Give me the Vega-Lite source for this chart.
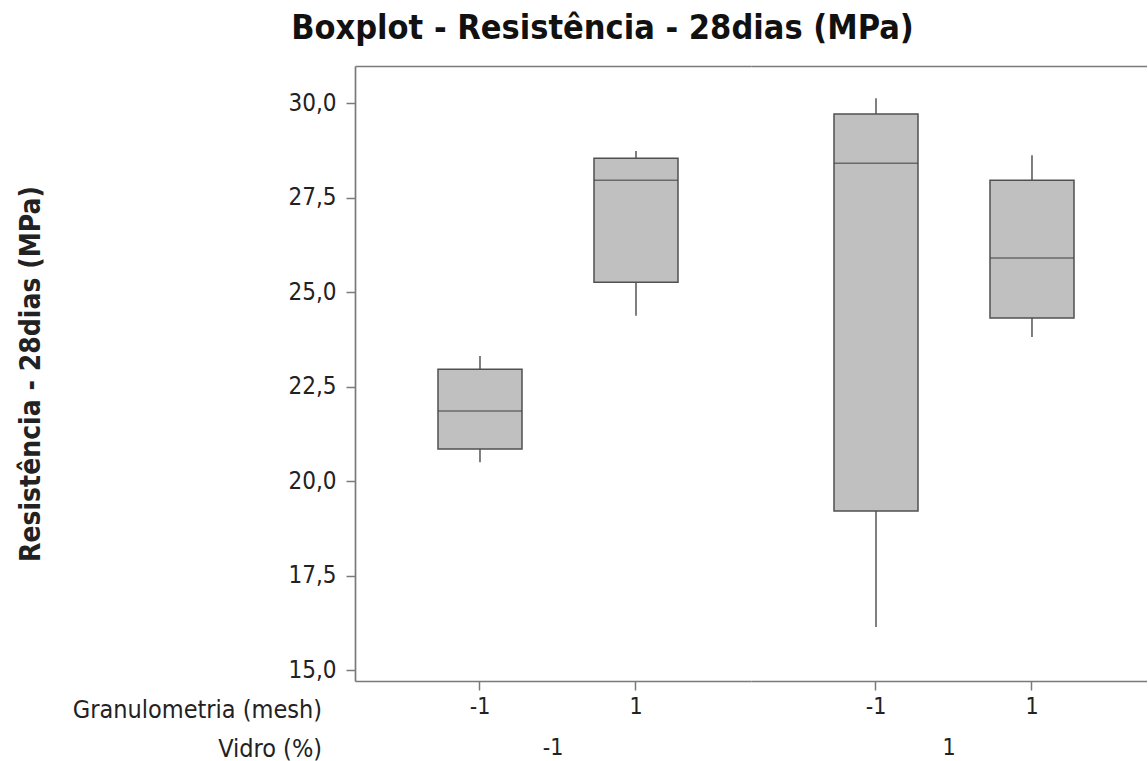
{
  "$schema": "https://vega.github.io/schema/vega-lite/v6.json",
  "autosize": {"type": "pad"},
  "padding": {"left": 17, "top": 12, "right": 0, "bottom": 0},
  "title": {
    "text": "Boxplot - Resistência - 28dias (MPa)",
    "fontSize": 34,
    "fontWeight": "bold",
    "color": "#111111",
    "anchor": "middle",
    "dx": 20,
    "offset": 20
  },
  "data": {
    "values": [
      {"Vidro": "-1", "Granulometria": "-1", "min": 20.50, "q1": 20.85, "median": 21.85, "q3": 22.96, "max": 23.31},
      {"Vidro": "-1", "Granulometria": "1", "min": 24.37, "q1": 25.26, "median": 27.96, "q3": 28.54, "max": 28.73},
      {"Vidro": "1", "Granulometria": "-1", "min": 16.14, "q1": 19.21, "median": 28.41, "q3": 29.71, "max": 30.13},
      {"Vidro": "1", "Granulometria": "1", "min": 23.81, "q1": 24.31, "median": 25.90, "q3": 27.96, "max": 28.62}
    ]
  },
  "spacing": 0,
  "facet": {
    "column": {
      "field": "Vidro",
      "type": "nominal",
      "sort": ["-1", "1"],
      "title": ["Granulometria (mesh)\u2800\u2800", "Vidro (%)\u2800\u2800"],
      "header": {
        "labelOrient": "bottom",
        "labelFontSize": 23,
        "labelColor": "#222222",
        "labelPadding": 19,
        "titleOrient": "bottom",
        "titleAnchor": "start",
        "titleAlign": "right",
        "titleFontSize": 25,
        "titleFontWeight": "normal",
        "titleColor": "#222222",
        "titleLineHeight": 39,
        "titlePadding": -72
      }
    }
  },
  "spec": {
    "width": 396,
    "height": 615,
    "encoding": {
      "x": {
        "field": "Granulometria",
        "type": "nominal",
        "sort": ["-1", "1"],
        "scale": {"paddingInner": 0.4615, "paddingOuter": 0.5, "align": 0.532}
      },
      "y": {
        "type": "quantitative",
        "scale": {"domain": [14.71, 30.98], "nice": false, "zero": false}
      }
    },
    "layer": [
      {
        "mark": {"type": "rule", "color": "#555555", "strokeWidth": 1.5},
        "encoding": {
          "x": {
            "field": "Granulometria",
            "type": "nominal",
            "sort": ["-1", "1"],
            "axis": {"orient": "bottom", "title": null, "labelAngle": 0, "labelPadding": 5, "labelFontSize": 23}
          },
          "y": {
            "field": "min",
            "type": "quantitative",
            "axis": {
              "title": "Resistência - 28dias (MPa)",
              "titleFontSize": 28,
              "titleFontWeight": "bold",
              "titlePadding": 242,
              "values": [15, 17.5, 20, 22.5, 25, 27.5, 30],
              "labelExpr": "replace(format(datum.value, '.1f'), '.', ',')",
              "labelFontSize": 24,
              "labelPadding": 10
            }
          },
          "y2": {"field": "max"}
        }
      },
      {
        "mark": {"type": "bar", "fill": "#c0c0c0", "stroke": "#505050", "strokeWidth": 1.5},
        "encoding": {
          "x": {
            "field": "Granulometria",
            "type": "nominal",
            "sort": ["-1", "1"],
            "axis": {"orient": "top", "title": null, "labels": false, "ticks": false, "domain": true}
          },
          "y": {"field": "q1", "type": "quantitative"},
          "y2": {"field": "q3"}
        }
      },
      {
        "mark": {"type": "tick", "color": "#444444", "thickness": 1.5, "size": 84},
        "encoding": {
          "x": {"field": "Granulometria", "type": "nominal", "sort": ["-1", "1"], "axis": null},
          "y": {"field": "median", "type": "quantitative"}
        }
      }
    ],
    "resolve": {"axis": {"x": "independent"}}
  },
  "config": {
    "font": "DejaVu Sans Condensed, DejaVu Sans",
    "view": {"stroke": null},
    "axis": {
      "grid": false,
      "domainColor": "#7a7a7a",
      "domainWidth": 1.7,
      "tickColor": "#7a7a7a",
      "tickWidth": 1.5,
      "tickSize": 9,
      "labelFontSize": 22,
      "labelColor": "#222222",
      "titleColor": "#222222"
    }
  }
}
